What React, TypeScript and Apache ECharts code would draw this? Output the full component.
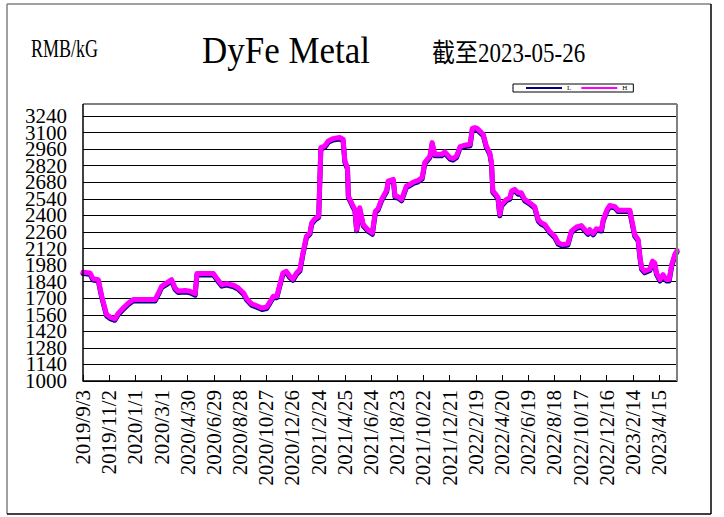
import React, { useEffect, useRef } from "react";
import * as echarts from "echarts";

// x axis: days counted from 2019/9/3, major unit 60 days
const xTickLabels = [
  "2019/9/3", "2019/11/2", "2020/1/1", "2020/3/1", "2020/4/30", "2020/6/29",
  "2020/8/28", "2020/10/27", "2020/12/26", "2021/2/24", "2021/4/25", "2021/6/24",
  "2021/8/23", "2021/10/22", "2021/12/21", "2022/2/19", "2022/4/20", "2022/6/19",
  "2022/8/18", "2022/10/17", "2022/12/16", "2023/2/14", "2023/4/15",
];
const tickStepDays = 60;
const lastDay = 1361; // 2023-05-26

const dayOffsets = [
  0, 16, 23, 35, 43, 54, 62, 73, 81, 92,
  104, 115, 165, 173, 180, 192, 203, 211, 218, 234,
  245, 257, 261, 299, 306, 318, 329, 345, 356, 368,
  375, 387, 398, 410, 421, 429, 436, 444, 458, 466,
  474, 481, 489, 497, 504, 512, 520, 524, 531, 540,
  545, 554, 562, 573, 588, 596, 600, 606, 608, 617,
  623, 627, 634, 642, 652, 663, 670, 676, 684, 696,
  699, 711, 715, 722, 730, 741, 749, 757, 768, 777,
  783, 795, 800, 806, 822, 829, 841, 848, 856, 864,
  875, 887, 892, 898, 903, 909, 917, 924, 932, 936,
  939, 946, 951, 955, 959, 970, 978, 982, 989, 997,
  1004, 1012, 1024, 1035, 1043, 1050, 1058, 1069, 1081, 1089,
  1098, 1111, 1119, 1131, 1142, 1150, 1157, 1161, 1169, 1176,
  1188, 1192, 1201, 1207, 1219, 1226, 1253, 1257, 1264, 1272,
  1276, 1280, 1287, 1299, 1305, 1310, 1314, 1322, 1329, 1337,
  1343, 1349, 1356, 1361,
];

const highValues = [
  1920, 1914, 1865, 1857, 1716, 1562, 1540, 1525, 1574, 1617,
  1659, 1688, 1688, 1744, 1800, 1829, 1857, 1786, 1760, 1765,
  1758, 1738, 1908, 1908, 1871, 1814, 1823, 1809, 1786, 1744,
  1696, 1651, 1636, 1617, 1625, 1673, 1716, 1716, 1913, 1927,
  1885, 1862, 1913, 1942, 2083, 2224, 2252, 2337, 2371, 2394,
  2973, 2987, 3029, 3049, 3058, 3043, 2860, 2803, 2563, 2493,
  2450, 2281, 2464, 2323, 2281, 2252, 2436, 2456, 2535, 2614,
  2690, 2704, 2563, 2558, 2535, 2648, 2662, 2682, 2696, 2719,
  2846, 2902, 3015, 2916, 2916, 2936, 2888, 2880, 2902, 2981,
  2993, 3001, 3135, 3142, 3135, 3114, 3086, 2987, 2930, 2846,
  2606, 2577, 2549, 2408, 2492, 2535, 2549, 2606, 2620, 2591,
  2591, 2535, 2506, 2473, 2365, 2337, 2323, 2266, 2224, 2168,
  2153, 2162, 2266, 2303, 2314, 2280, 2252, 2280, 2247, 2286,
  2280, 2365, 2450, 2484, 2473, 2444, 2444, 2365, 2238, 2196,
  2055, 1956, 1927, 1947, 2013, 1998, 1913, 1857, 1899, 1857,
  1857, 1984, 2069, 2103,
];

const lowValues = [
  1908, 1902, 1853, 1845, 1704, 1550, 1528, 1513, 1562, 1605,
  1647, 1676, 1676, 1732, 1788, 1817, 1845, 1774, 1748, 1753,
  1746, 1726, 1896, 1896, 1859, 1802, 1811, 1797, 1774, 1732,
  1684, 1639, 1624, 1605, 1613, 1661, 1704, 1704, 1901, 1915,
  1873, 1850, 1901, 1930, 2071, 2212, 2240, 2325, 2359, 2382,
  2961, 2975, 3017, 3037, 3046, 3031, 2848, 2791, 2551, 2481,
  2438, 2269, 2452, 2311, 2269, 2240, 2424, 2444, 2523, 2602,
  2678, 2692, 2551, 2546, 2523, 2636, 2650, 2670, 2684, 2707,
  2834, 2890, 3003, 2904, 2904, 2924, 2876, 2868, 2890, 2969,
  2981, 2989, 3123, 3130, 3123, 3102, 3074, 2975, 2918, 2834,
  2594, 2565, 2537, 2396, 2480, 2523, 2537, 2594, 2608, 2579,
  2579, 2523, 2494, 2461, 2353, 2325, 2311, 2254, 2212, 2156,
  2141, 2150, 2254, 2291, 2302, 2268, 2240, 2268, 2235, 2274,
  2268, 2353, 2438, 2472, 2461, 2432, 2432, 2353, 2226, 2184,
  2043, 1944, 1915, 1935, 2001, 1986, 1901, 1845, 1887, 1845,
  1845, 1972, 2057, 2091,
];

const yMin = 1000;
const yMax = 3240;
const yStep = 140;

export default function App() {
  const ref = useRef<HTMLDivElement>(null);

  useEffect(() => {
    document.body.style.margin = "0";
    const chart = echarts.init(ref.current as HTMLDivElement, null, { renderer: "svg" });
    const font = "'Liberation Serif', 'Noto Sans CJK SC', serif";
    const lowData = dayOffsets.map((d, i) => [d, lowValues[i]]);
    const highData = dayOffsets.map((d, i) => [d, highValues[i]]);

    const yLabelBase = {
      margin: 16,
      color: "#000",
      fontSize: 21,
      lineHeight: 12,
      fontFamily: font,
      hideOverlap: false,
    };

    chart.setOption({
      animation: false,
      backgroundColor: "#ffffff",
      grid: { left: 83, right: 47, top: 116, bottom: 136, containLabel: false },
      legend: {
        data: ["L", "H"],
        left: 513,
        top: 84,
        icon: "rect",
        itemWidth: 36,
        itemHeight: 2,
        itemGap: 10,
        padding: [0, 6, 0, 13],
        borderColor: "#000",
        borderWidth: 1,
        backgroundColor: "#fff",
        selectedMode: false,
        textStyle: { fontSize: 7, lineHeight: 8, color: "#000", fontFamily: font },
      },
      xAxis: {
        type: "value",
        min: 0,
        max: lastDay,
        interval: tickStepDays,
        axisLine: { show: true, lineStyle: { color: "#000", width: 1.5 } },
        axisTick: { show: true, inside: true, length: 6, lineStyle: { color: "#000", width: 1 } },
        splitLine: { show: false },
        axisLabel: {
          rotate: 90,
          margin: 9,
          color: "#000",
          fontSize: 21,
          lineHeight: 16,
          fontFamily: font,
          showMinLabel: true,
          showMaxLabel: false,
          formatter: (v: number) =>
            v % tickStepDays === 0 ? xTickLabels[v / tickStepDays] ?? "" : "",
        },
      },
      yAxis: [
        {
          // inner tick labels (1140 ... 3100) and gridlines
          type: "value",
          min: yMin,
          max: yMax,
          interval: yStep,
          axisLine: { show: false },
          axisTick: { show: false },
          splitLine: { show: true, lineStyle: { color: "#000", width: 1 } },
          axisLabel: {
            ...yLabelBase,
            showMinLabel: false,
            showMaxLabel: false,
            formatter: (v: number) => (v === yMin || v === yMax ? "" : String(v)),
          },
        },
        {
          // end tick labels (1000 and 3240)
          type: "value",
          position: "left",
          min: yMin,
          max: yMax,
          interval: yStep,
          axisLine: { show: false },
          axisTick: { show: false },
          splitLine: { show: false },
          axisLabel: {
            ...yLabelBase,
            showMinLabel: true,
            showMaxLabel: true,
            formatter: (v: number) => (v === yMin || v === yMax ? String(v) : ""),
          },
        },
      ],
      series: [
        {
          name: "L",
          type: "line",
          data: lowData,
          showSymbol: false,
          silent: true,
          z: 2,
          color: "#000080",
          lineStyle: { color: "#000080", width: 5, cap: "round", join: "round" },
        },
        {
          name: "H",
          type: "line",
          data: highData,
          showSymbol: false,
          silent: true,
          z: 3,
          color: "#ff00ff",
          lineStyle: { color: "#ff00ff", width: 5, cap: "round", join: "round" },
        },
      ],
      graphic: [
        // outer frame
        { type: "line", silent: true, shape: { x1: 7, y1: 4, x2: 711, y2: 4 }, style: { stroke: "#808080", lineWidth: 1.5 } },
        { type: "line", silent: true, shape: { x1: 7, y1: 4, x2: 7, y2: 514 }, style: { stroke: "#808080", lineWidth: 1.5 } },
        { type: "line", silent: true, shape: { x1: 711, y1: 4, x2: 711, y2: 514 }, style: { stroke: "#000", lineWidth: 1.5 } },
        { type: "line", silent: true, shape: { x1: 7, y1: 514, x2: 711, y2: 514 }, style: { stroke: "#000", lineWidth: 1.5 } },
        // plot frame
        { type: "line", silent: true, z: 10, shape: { x1: 83, y1: 104, x2: 677, y2: 104 }, style: { stroke: "#808080", lineWidth: 2 } },
        { type: "line", silent: true, z: 10, shape: { x1: 677, y1: 104, x2: 677, y2: 381 }, style: { stroke: "#808080", lineWidth: 2 } },
        { type: "line", silent: true, z: 10, shape: { x1: 83, y1: 104, x2: 83, y2: 381 }, style: { stroke: "#000", lineWidth: 1.5 } },
        // texts
        {
          type: "text", silent: true, x: 31, y: 48, scaleY: 1.4,
          style: { text: "RMB/kG", font: `18px ${font}`, fill: "#000", align: "left", verticalAlign: "middle" },
        },
        {
          type: "text", silent: true, x: 286, y: 50, scaleY: 1.1,
          style: { text: "DyFe Metal", font: `35px ${font}`, fill: "#000", align: "center", verticalAlign: "middle" },
        },
        {
          type: "text", silent: true, x: 432, y: 53, scaleY: 1.15,
          style: { text: "截至2023-05-26", font: `23px ${font}`, fill: "#000", align: "left", verticalAlign: "middle" },
        },
      ],
    });

    return () => chart.dispose();
  }, []);

  return <div ref={ref} style={{ width: 724, height: 517 }} />;
}
